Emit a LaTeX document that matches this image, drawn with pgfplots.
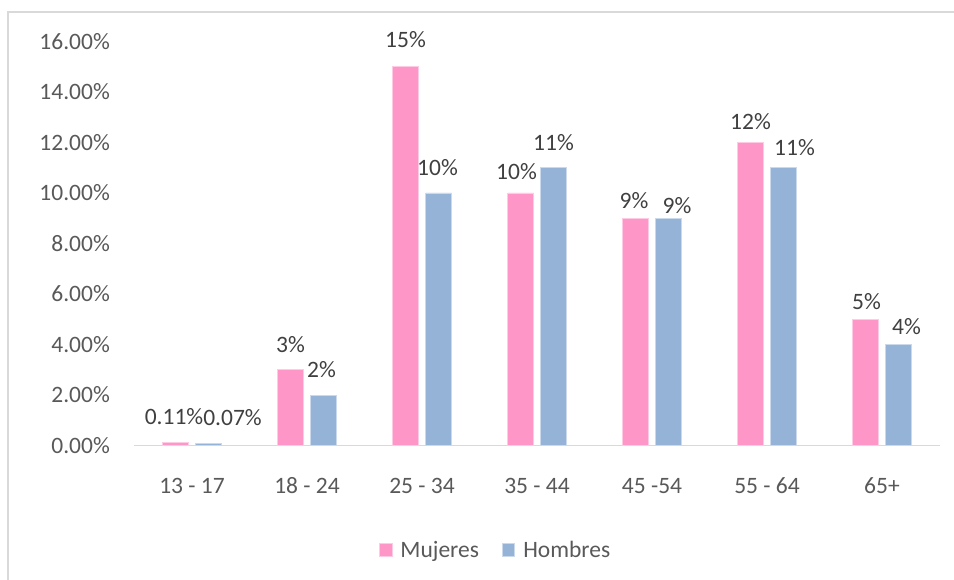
\documentclass[border=0pt]{standalone}
\usepackage{pgfplots}
\usepackage{pgfplotstable}
\pgfplotsset{compat=1.18}
\usepackage{fontspec}
\setmainfont{Carlito}

\definecolor{mujer}{HTML}{FF96C8}
\definecolor{hombre}{HTML}{95B3D7}
\definecolor{txt}{HTML}{595959}
\definecolor{lbl}{HTML}{404040}
\definecolor{frame}{HTML}{D9D9D9}

% x = category index, y = percentage, dx/dy = label offsets in pt
\pgfplotstableread{
x y    label dx   dy
0 0.11 0.11  -1.5 18
1 3    3     0    17
2 15   15    0    19
3 10   10    -4   13
4 9    9     -1.5 10
5 12   12    0    13
6 5    5     1    10
}\mujeres

\pgfplotstableread{
x y    label dx   dy
0 0.07 0.07  24   18
1 2    2     -2   18
2 10   10    -1   18
3 11   11    0    17
4 9    9     8.5  5
5 11   11    11   12
6 4    4     8    10
}\hombres

\begin{document}
\begin{tikzpicture}[x=1pt,y=1pt]
\useasboundingbox (0,0) rectangle (954,579);
\draw[frame, line width=1.5pt] (8,-5) -- (8,567) -- (960,567);

\begin{axis}[%
at={(134.5pt,133.5pt)},
anchor=south west,
width=805pt,
height=404pt,
scale only axis,
xmin=-0.5,
xmax=6.5,
ymin=0,
ymax=16,
xtick={0,...,6},
xticklabels={13 - 17, 18 - 24, 25 - 34, 35 - 44, 45 -54, 55 - 64, 65+},
ytick={0,2,...,16},
yticklabel={\pgfmathprintnumber[fixed,fixed zerofill,precision=2]{\tick}\%},
/pgf/number format/assume math mode=true,
major tick length=0pt,
axis lines*=left,
x axis line style={draw=frame, line width=1.5pt},
y axis line style={draw=none},
font=\fontsize{23.5}{28}\selectfont,
ticklabel style={text=txt, inner sep=0pt},
xticklabel style={anchor=base, yshift=-47.5pt},
yticklabel style={anchor=east, xshift=-24.5pt},
ybar,
bar width=26pt,
nodes near coords={\pgfplotspointmeta\%},
point meta=explicit symbolic,
visualization depends on={\thisrow{dx} \as \dx},
visualization depends on={\thisrow{dy} \as \dy},
every node near coord/.append style={anchor=base, inner sep=0pt, text=lbl,
  xshift=\dx pt, yshift=\dy pt, font=\fontsize{23.5}{28}\selectfont},
legend columns=2,
legend image code/.code={\fill[#1] (0pt,-6.25pt) rectangle (12.5pt,6.25pt);},
legend style={at={(0.3037,-0.2587)}, anchor=west, draw=none, fill=none,
  inner sep=0pt, text=txt, font=\fontsize{23.5}{28}\selectfont,
  nodes={inner sep=0pt, anchor=west},
  /tikz/every odd column/.append style={column sep=8pt},
  /tikz/every even column/.append style={column sep=23pt}},
]
\addplot[fill=mujer, draw=mujer!50!white, line width=0.8pt, bar shift=-16.5pt]
  table[x=x, y=y, meta=label] {\mujeres};
\addlegendentry{Mujeres}
\addplot[fill=hombre, draw=hombre!50!white, line width=0.8pt, bar shift=16.5pt]
  table[x=x, y=y, meta=label] {\hombres};
\addlegendentry{Hombres}
\end{axis}
\end{tikzpicture}
\end{document}
